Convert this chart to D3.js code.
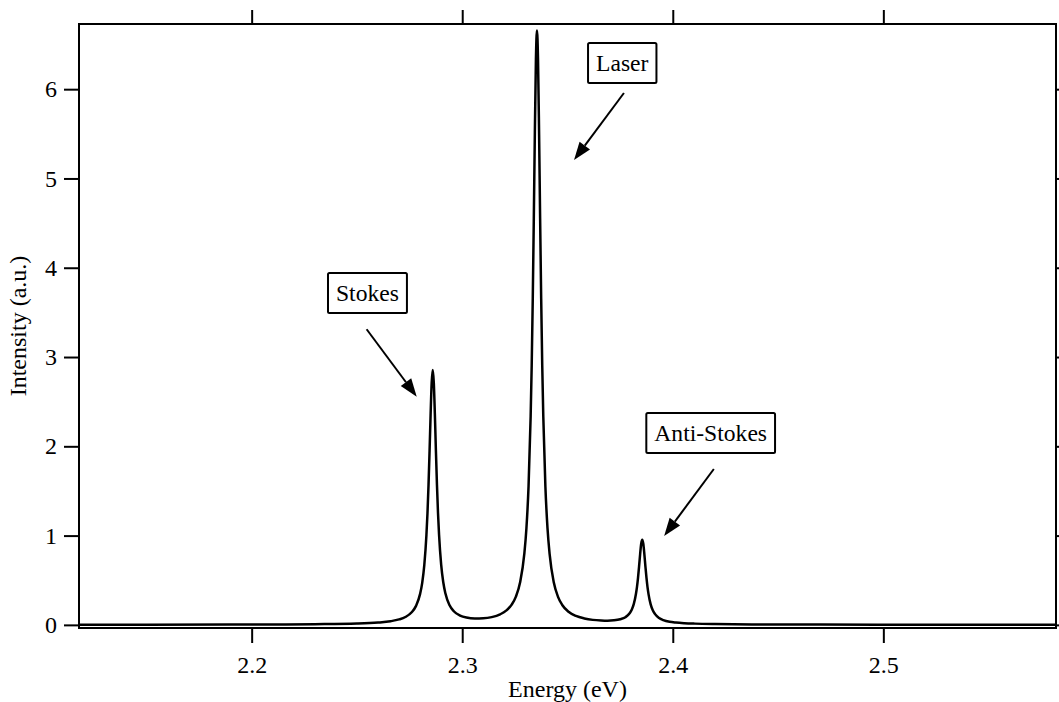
<!DOCTYPE html>
<html>
<head>
<meta charset="utf-8">
<script src="https://cdn.jsdelivr.net/npm/d3@7"></script>
<style>
  body { margin: 0; background: #fff; }
  svg { display: block; font-family: "Liberation Serif", "Times New Roman", serif; }
</style>
</head>
<body>
<div id="chart"></div>
<script>
// spectrum (energy in eV, intensity in a.u.)
const energy = [
  2.118, 2.15, 2.2, 2.23, 2.25, 2.26, 2.266, 2.27, 2.273, 2.276,
  2.278, 2.28, 2.281, 2.282, 2.283, 2.2835, 2.284, 2.2845, 2.285, 2.2855,
  2.286, 2.2865, 2.287, 2.2875, 2.288, 2.2885, 2.289, 2.29, 2.291, 2.292,
  2.294, 2.296, 2.299, 2.302, 2.306, 2.31, 2.314, 2.318, 2.321, 2.3235,
  2.3255, 2.3275, 2.3295, 2.3305, 2.3315, 2.3325, 2.333, 2.3335, 2.334, 2.3345,
  2.335, 2.3355, 2.336, 2.3365, 2.337, 2.3375, 2.338, 2.3385, 2.3395, 2.3405,
  2.3415, 2.3435, 2.3455, 2.3475, 2.3505, 2.354, 2.358, 2.362, 2.366, 2.369,
  2.372, 2.375, 2.3775, 2.3795, 2.3805, 2.3815, 2.3825, 2.383, 2.3835, 2.384,
  2.3845, 2.385, 2.3855, 2.386, 2.3865, 2.387, 2.3875, 2.388, 2.3885, 2.3895,
  2.3905, 2.3915, 2.3935, 2.3955, 2.3985, 2.4015, 2.4055, 2.4105, 2.42, 2.44,
  2.47, 2.52, 2.582
];
const intensity = [
  0.001, 0.002, 0.004, 0.008, 0.015, 0.026, 0.041, 0.061, 0.088, 0.141,
  0.210, 0.347, 0.471, 0.671, 1.006, 1.250, 1.568, 1.953, 2.367, 2.714,
  2.854, 2.715, 2.368, 1.954, 1.571, 1.253, 1.009, 0.675, 0.477, 0.354,
  0.219, 0.153, 0.104, 0.082, 0.072, 0.074, 0.087, 0.118, 0.162, 0.227,
  0.317, 0.477, 0.797, 1.085, 1.551, 2.336, 2.907, 3.651, 4.549, 5.520,
  6.331, 6.657, 6.332, 5.521, 4.550, 3.652, 2.907, 2.336, 1.550, 1.084,
  0.795, 0.474, 0.314, 0.223, 0.147, 0.100, 0.072, 0.056, 0.049, 0.047,
  0.051, 0.063, 0.086, 0.130, 0.170, 0.235, 0.345, 0.426, 0.530, 0.657,
  0.794, 0.909, 0.954, 0.908, 0.793, 0.655, 0.528, 0.423, 0.342, 0.230,
  0.164, 0.123, 0.077, 0.054, 0.035, 0.026, 0.019, 0.014, 0.009, 0.005,
  0.003, 0.001, 0.001
];

const xTicks = [2.2, 2.3, 2.4, 2.5];
const yTicks = [0, 1, 2, 3, 4, 5, 6];

// labels: box centre, arrow start, arrow tip (data coords)
const labels = ["Stokes", "Laser", "Anti-Stokes"];
const labelAt = [[2.255, 3.717], [2.376, 6.293], [2.418, 2.149]];
const arrowFrom = [[2.2546, 3.311], [2.3768, 5.957], [2.4195, 1.746]];
const arrowTo = [[2.2784, 2.556], [2.3531, 5.207], [2.3959, 0.995]];

const width = 1059, height = 702;
const plotL = 79, plotT = 24, plotR = 1056, plotB = 628;

const svg = d3.select("#chart").append("svg")
  .attr("width", width)
  .attr("height", height);

const x = d3.scaleLinear().domain([2.118, 2.582]).range([plotL, plotR]);
const y = d3.scaleLinear().domain([-0.035, 6.73]).range([plotB, plotT]);

function styleAxis(g) {
  g.select(".domain").remove();
  g.attr("font-family", null);
  g.selectAll(".tick line").attr("stroke", "#000").attr("stroke-width", 2);
  g.selectAll(".tick text").attr("fill", "#000").style("font-size", "24px");
}

svg.append("g")
  .attr("transform", "translate(0," + plotB + ")")
  .call(d3.axisBottom(x).tickValues(xTicks).tickSize(15).tickPadding(13).tickFormat(d3.format(".1f")))
  .call(styleAxis);

svg.append("g")
  .attr("transform", "translate(0," + plotT + ")")
  .call(d3.axisTop(x).tickValues(xTicks).tickSize(14).tickFormat(""))
  .call(styleAxis);

svg.append("g")
  .attr("transform", "translate(" + plotL + ",0)")
  .call(d3.axisLeft(y).tickValues(yTicks).tickSize(15).tickPadding(7).tickFormat(d3.format("d")))
  .call(styleAxis);

svg.append("g")
  .attr("transform", "translate(" + plotR + ",0)")
  .call(d3.axisRight(y).tickValues(yTicks).tickSize(15).tickFormat(""))
  .call(styleAxis);

// frame
svg.append("rect")
  .attr("x", plotL).attr("y", plotT)
  .attr("width", plotR - plotL).attr("height", plotB - plotT)
  .attr("fill", "none")
  .attr("stroke", "#000")
  .attr("stroke-width", 2);

// spectrum
const points = energy.map((e, i) => [e, intensity[i]]);
const line = d3.line()
  .x(d => x(d[0]))
  .y(d => y(d[1]))
  .curve(d3.curveMonotoneX);

svg.append("path")
  .datum(points)
  .attr("d", line)
  .attr("fill", "none")
  .attr("stroke", "#000")
  .attr("stroke-width", 2.5)
  .attr("stroke-linejoin", "round");

// axis titles
svg.append("text")
  .attr("x", (plotL + plotR) / 2)
  .attr("y", 697)
  .attr("text-anchor", "middle")
  .style("font-size", "24px")
  .text("Energy (eV)");

svg.append("text")
  .attr("transform", "translate(26," + (plotT + plotB) / 2 + ") rotate(-90)")
  .attr("text-anchor", "middle")
  .style("font-size", "24px")
  .text("Intensity (a.u.)");

// annotations
labels.forEach(function (name, i) {
  const cx = x(labelAt[i][0]), cy = y(labelAt[i][1]);
  const g = svg.append("g");
  const t = g.append("text")
    .attr("x", cx)
    .attr("y", cy)
    .attr("dy", "0.34em")
    .attr("text-anchor", "middle")
    .style("font-size", "23.6px")
    .text(name);
  const w = t.node().getComputedTextLength() + 16;
  g.insert("rect", "text")
    .attr("x", cx - w / 2)
    .attr("y", cy - 20)
    .attr("width", w)
    .attr("height", 40)
    .attr("rx", 1.5)
    .attr("fill", "#fff")
    .attr("stroke", "#000")
    .attr("stroke-width", 2);

  const x1 = x(arrowFrom[i][0]), y1 = y(arrowFrom[i][1]);
  const x2 = x(arrowTo[i][0]), y2 = y(arrowTo[i][1]);
  const len = Math.hypot(x2 - x1, y2 - y1);
  const ux = (x2 - x1) / len, uy = (y2 - y1) / len;
  const head = 18, half = 6.5;
  const bx = x2 - ux * head, by = y2 - uy * head;
  svg.append("line")
    .attr("x1", x1).attr("y1", y1)
    .attr("x2", bx).attr("y2", by)
    .attr("stroke", "#000")
    .attr("stroke-width", 2);
  svg.append("path")
    .attr("d", "M" + x2 + "," + y2 +
      "L" + (bx - uy * half) + "," + (by + ux * half) +
      "L" + (bx + uy * half) + "," + (by - ux * half) + "Z")
    .attr("fill", "#000");
});
</script>
</body>
</html>
